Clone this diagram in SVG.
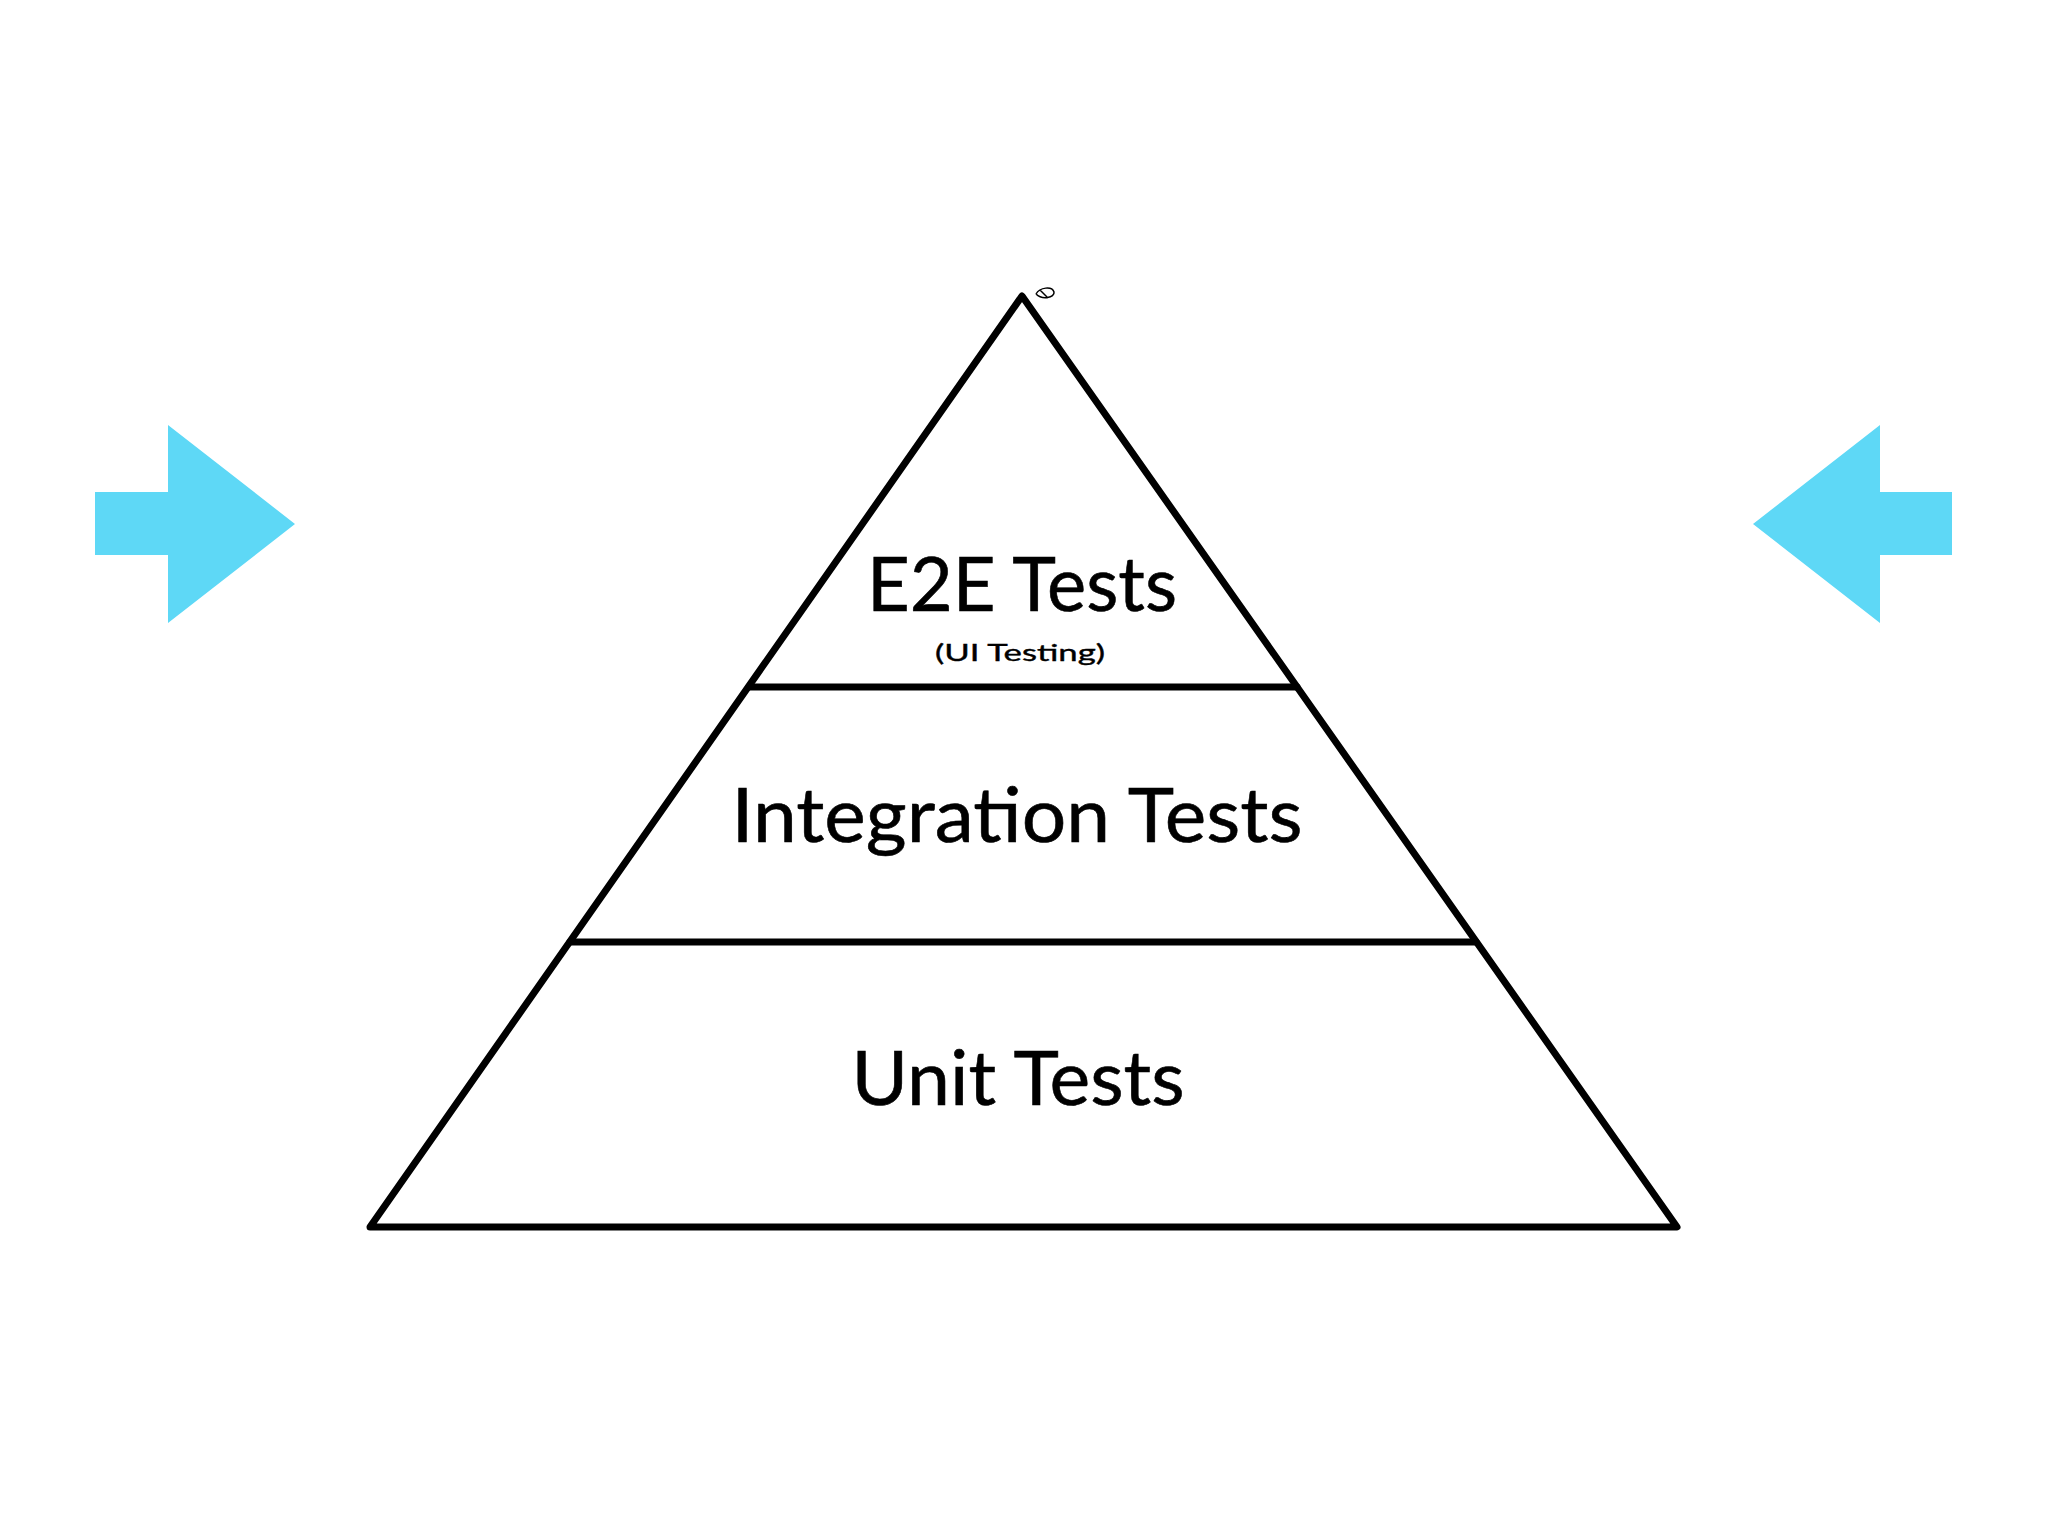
<svg xmlns="http://www.w3.org/2000/svg" width="2048" height="1536" viewBox="0 0 2048 1536">
  <style>
    .outline { fill: none; stroke: #000; stroke-width: 7; stroke-linejoin: round; stroke-linecap: round; }
    .arrow { fill: #5ED8F6; }
    .big { font-family: Lato, "Liberation Sans", sans-serif; font-size: 76px; fill: #000; stroke: #000; stroke-width: 0.6; text-anchor: middle; }
    .small { font-family: Lato, "Liberation Sans", sans-serif; font-size: 24px; fill: #000; stroke: #000; stroke-width: 0.4; text-anchor: middle; }
  </style>
  <rect x="0" y="0" width="2048" height="1536" fill="#FFFFFF"/>

  <g id="connectors">
    <g id="arrow-left">
      <polygon class="arrow" points="95,492 168,492 168,425 295,524 168,623 168,555 95,555"/>
    </g>
    <g id="arrow-right">
      <polygon class="arrow" points="1952,492 1880,492 1880,425 1753,524 1880,623 1880,555 1952,555"/>
    </g>
  </g>

  <g id="pyramid">
    <polygon class="outline" points="1022,296 1677,1227 370,1227"/>
    <line class="outline" x1="749" y1="687" x2="1297" y2="687"/>
    <line class="outline" x1="570" y1="942" x2="1476" y2="942"/>
    <path d="M1036,294 C1040,287 1052,286 1054,292 C1055,298 1042,300 1036,294 M1040,290 L1048,298" fill="none" stroke="#000" stroke-width="1.5"/>
  </g>

  <g id="node-e2e">
    <text class="big" x="1022" y="611" textLength="310" lengthAdjust="spacingAndGlyphs">E2E Tests</text>
    <text class="small" x="1020" y="661" textLength="170" lengthAdjust="spacingAndGlyphs">(UI Testing)</text>
  </g>

  <g id="node-integration">
    <text class="big" x="1017" y="842" textLength="571" lengthAdjust="spacingAndGlyphs">Integration Tests</text>
  </g>

  <g id="node-unit">
    <text class="big" x="1018" y="1105" textLength="333" lengthAdjust="spacingAndGlyphs">Unit Tests</text>
  </g>
</svg>
